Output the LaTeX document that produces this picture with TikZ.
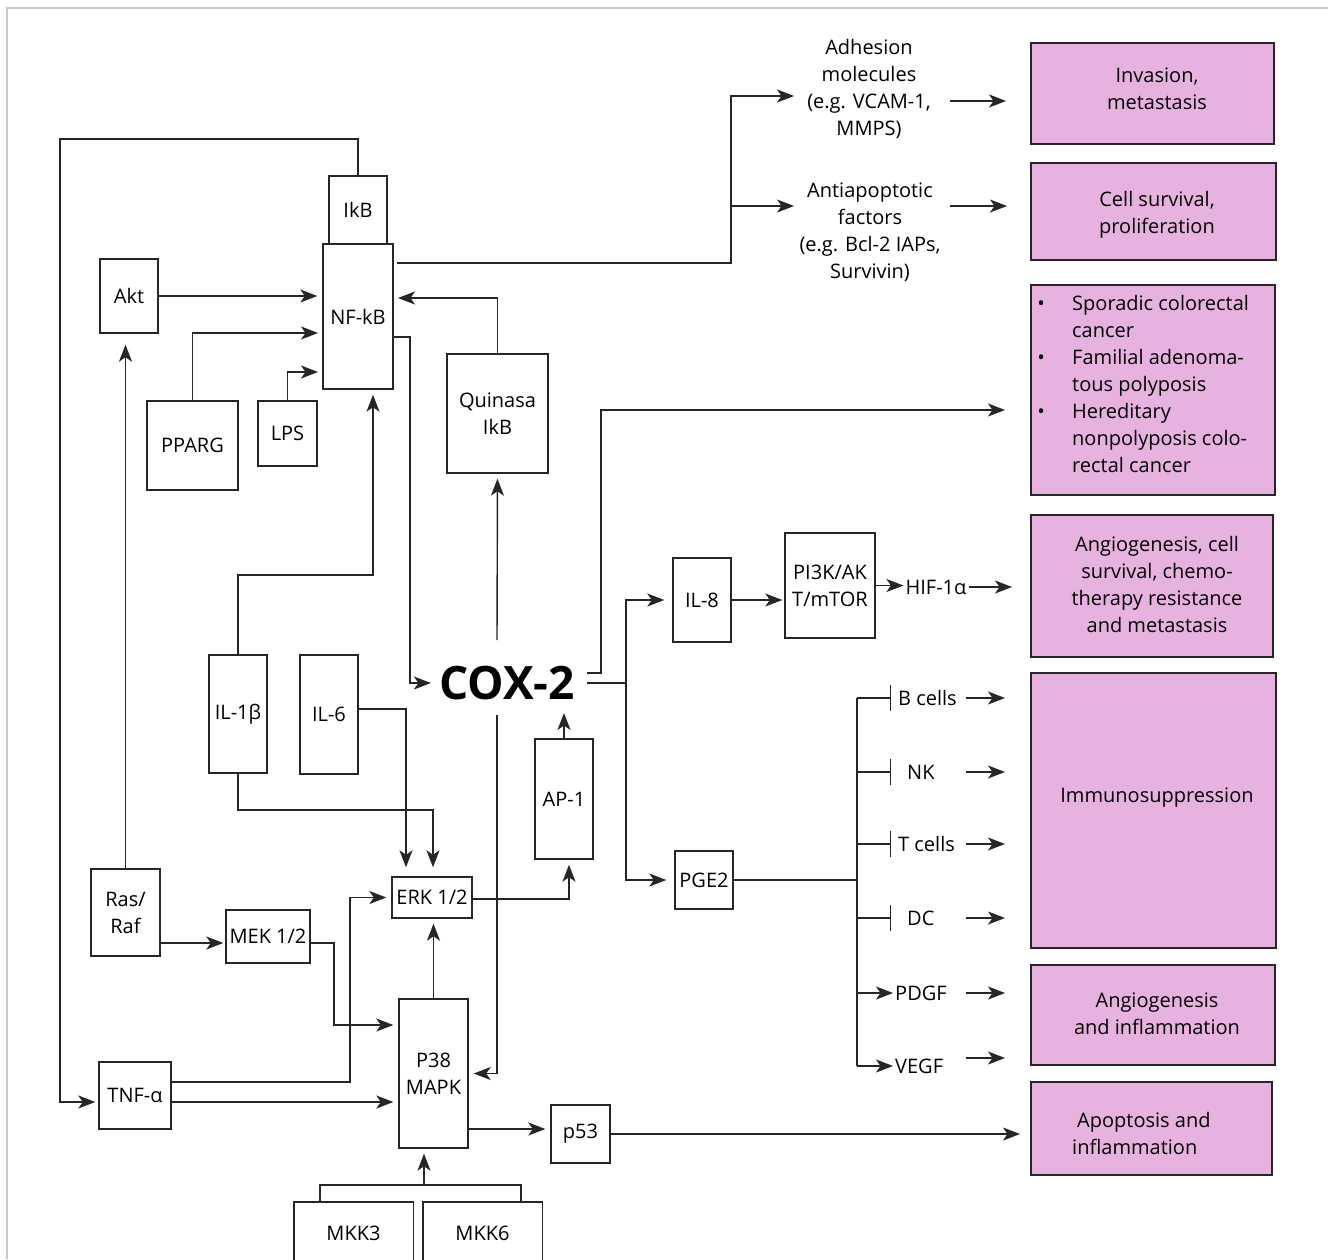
\documentclass[tikz,border=0pt]{standalone}
\usepackage{fontspec}
\setmainfont{Open Sans}
\usetikzlibrary{arrows.meta,calc}
\definecolor{pinkf}{HTML}{E8B2E0}
\definecolor{edgec}{HTML}{262626}
\begin{document}
\begin{tikzpicture}[x=1pt,y=-1pt,
  every node/.style={font=\fontsize{20}{27}\selectfont, inner sep=0pt, text=black},
  box/.style={draw=edgec, line width=1.4pt, rectangle, align=center},
  pbox/.style={draw=edgec, fill=pinkf, line width=1.4pt, rectangle},
  ln/.style={line width=1.4pt, draw=edgec},
  arr/.style={ln, -{Stealth[length=17pt,width=13pt,inset=4.5pt]}, shorten >=5pt},
  arrc/.style={ln, -{Stealth[length=17pt,width=13pt,inset=4.5pt]}},
  inh/.style={ln, -{Bar[width=26pt]}},
  txt/.style={align=center}
]
\useasboundingbox (0,0) rectangle (1328,1259);
\fill[white] (0,0) rectangle (1328,1259);
\draw[line width=2pt, black!22] (6.5,1259) -- (6.5,7.5) -- (1328,7.5);

% ---------- left / centre boxes ----------
\node[box, minimum width=58pt, minimum height=74pt] (akt) at (129,296) {Akt};
\node[box, minimum width=58pt, minimum height=68pt] (ikb) at (358,210) {IkB};
\node[box, minimum width=70pt, minimum height=145pt] (nfkb) at (358,316.5) {NF-kB};
\node[box, minimum width=91pt, minimum height=89pt] (pparg) at (192.5,445.5) {PPARG};
\node[box, minimum width=59pt, minimum height=65pt] (lps) at (287.5,433.5) {LPS};
\node[box, minimum width=101pt, minimum height=119pt] (quin) at (497.5,413.5) {Quinasa\\IkB};
\node[box, minimum width=58pt, minimum height=118pt] (il1b) at (238,714) {IL-1β};
\node[box, minimum width=58pt, minimum height=119pt] (il6) at (329,714.5) {IL-6};
\node[box, minimum width=58pt, minimum height=120pt] (ap1) at (564,799) {AP-1};
\node[box, minimum width=80pt, minimum height=41pt] (erk) at (432,897.5) {ERK 1/2};
\node[box, minimum width=69pt, minimum height=87pt] (rasraf) at (125.5,912.5) {Ras/\\Raf};
\node[box, minimum width=84pt, minimum height=53pt] (mek) at (268,936.5) {MEK 1/2};
\node[box, minimum width=72pt, minimum height=67pt] (tnf) at (135,1095.5) {TNF-α};
\node[box, minimum width=69pt, minimum height=149pt] (p38) at (433.5,1073.5) {P38\\MAPK};
\node[box, minimum width=59pt, minimum height=58pt] (p53) at (580.5,1134) {p53};
\node[minimum width=119pt, minimum height=62pt] (mkk3) at (353.5,1233) {MKK3};
\node[minimum width=119pt, minimum height=62pt] (mkk6) at (482.5,1233) {MKK6};
\draw[ln] (mkk3.south west) -- (mkk3.north west) -- (mkk3.north east) -- (mkk3.south east);
\draw[ln] (mkk6.south west) -- (mkk6.north west) -- (mkk6.north east) -- (mkk6.south east);
\node[box, minimum width=58pt, minimum height=84pt] (il8) at (702,600) {IL-8};
\node[box, minimum width=90pt, minimum height=105pt] (pi3k) at (830,585.5) {PI3K/AK\\T/mTOR};
\node[box, minimum width=58pt, minimum height=58pt] (pge2) at (704,880) {PGE2};

\node[font=\fontsize{46}{50}\selectfont\bfseries] (cox) at (507,683) {COX-2};
\node (hif) at (936,587) {HIF-1α};
\node[txt] (adh) at (869,88.5) {Adhesion\\molecules\\(e.g. VCAM-1,\\MMPS)};
\node[txt] (anti) at (870,232.5) {Antiapoptotic\\factors\\(e.g. Bcl-2 IAPs,\\Survivin)};

% ---------- right pink boxes ----------
\node[pbox, minimum width=243pt, minimum height=101pt] (inv) at (1152.5,93.5) {};
\node[txt] (invt) at (1157,88.5) {Invasion,\\metastasis};
\node[pbox, minimum width=245pt, minimum height=97pt] (cell) at (1153.5,211.5) {};
\node[txt] (cellt) at (1157,214.5) {Cell survival,\\proliferation};
\node[pbox, minimum width=244pt, minimum height=210pt] (bul) at (1153,390) {};
\node[anchor=north west] (bult) at (1031,291) {\begin{tabular}{@{}l@{}l@{}}
\makebox[20pt]{•}\hspace{21pt} & Sporadic colorectal\\
 & cancer\\
\makebox[20pt]{•}\hspace{21pt} & Familial adenoma-\\
 & tous polyposis\\
\makebox[20pt]{•}\hspace{21pt} & Hereditary\\
 & nonpolyposis colo-\\
 & rectal cancer
\end{tabular}};
\node[pbox, minimum width=242pt, minimum height=142pt] (ang) at (1152,586) {};
\node[txt] (angt) at (1157,584.5) {Angiogenesis, cell\\survival, chemo-\\therapy resistance\\and metastasis};
\node[pbox, minimum width=245pt, minimum height=275pt] (imm) at (1153.5,810.5) {};
\node (immt) at (1157,798) {Immunosuppression};
\node[pbox, minimum width=244pt, minimum height=100pt] (angi) at (1153,1015) {};
\node[txt] (angit) at (1157,1014) {Angiogenesis\\and inflammation};
\node[pbox, minimum width=241pt, minimum height=93pt] (apop) at (1151.5,1128.5) {};
\node[align=left, anchor=west] (apopt) at (1072,1133.5) {\hspace*{5pt}Apoptosis and\\inflammation};

% ---------- branch labels ----------
\node[anchor=west] (bc) at (898,698) {B cells};
\node[anchor=west] (nk) at (907,772) {NK};
\node[anchor=west] (tc) at (898,844) {T cells};
\node[anchor=west] (dc) at (907,918) {DC};
\node[anchor=west] (pd) at (895,993) {PDGF};
\node[anchor=west] (vg) at (895,1066) {VEGF};

% ---------- coordinates ----------
\coordinate (lt) at (60,139);
\coordinate (lb) at (60,1102);
\coordinate (nfin2) at (323,333);
\coordinate (nfin3) at (323,372);
\coordinate (j1) at (373,575);
\coordinate (nfout) at (393,337);
\coordinate (nfout2) at (410,337);
\coordinate (coxin) at (410,683);
\coordinate (nftop) at (397,263);
\coordinate (split) at (731,263);
\coordinate (adhin) at (794,96);
\coordinate (antiin) at (794,206);
\coordinate (adhout) at (950,101);
\coordinate (invin) at (1006,101);
\coordinate (antiout) at (950,206);
\coordinate (cellin) at (1007,206);
\coordinate (qin) at (393,298);
\coordinate (cq) at (497,640);
\coordinate (cp) at (497,715);
\coordinate (apt) at (564,713);
\coordinate (i6) at (406,709);
\coordinate (i1) at (238,810);
\coordinate (i1b) at (433,810);
\coordinate (ea) at (569,899);
\coordinate (rm) at (160,943);
\coordinate (mp) at (334,943);
\coordinate (mp2) at (334,1025);
\coordinate (te) at (350,1082);
\coordinate (tp) at (171,1102);
\coordinate (pp) at (468,1129);
\coordinate (apin) at (1020,0);
\coordinate (m3) at (320,1185);
\coordinate (m6) at (521,1185);
\coordinate (mk) at (424,1185);
\coordinate (co1) at (587,673);
\coordinate (v1) at (601,410);
\coordinate (bulin) at (1005,410);
\coordinate (co2) at (587,683);
\coordinate (v2) at (626,683);
\coordinate (angin) at (1012,0);
\coordinate (vt) at (857,698);
\coordinate (vb) at (857,1066);
\coordinate (barx) at (891,0);
\coordinate (ra) at (966,0);
\coordinate (rb) at (1005,0);

% ---------- connectors ----------
\draw[arrc, shorten >=3pt] (ikb.north) |- (lt) -- (lb) -- (lb -| tnf.west);
\draw[arr] (akt.east) -- (akt.east -| nfkb.west);
\draw[arr] (pparg.north) |- (nfin2);
\draw[arr] (lps.north) |- (nfin3);
\draw[arr] (il1b.north) |- (j1) -- (j1 |- nfkb.south);
\draw[arr, shorten >=8pt] (nfout) -- (nfout2) -- (coxin) -- (cox.west);
\draw[arrc] (nftop) -- (split) |- (adhin);
\draw[arrc] (split |- antiin) -- (antiin);
\draw[arrc] (adhout) -- (invin);
\draw[arrc] (antiout) -- (cellin);
\draw[arr] (quin.north) |- (qin);
\draw[arr] (cq) -- (quin.south);
\draw[arr] (cp) |- (p38.east);
\draw[arrc] (ap1.north) -- (apt);
\draw[arr] (erk.east |- ea) -- (ea) -- (ea |- ap1.south);
\draw[arr, shorten >=9pt] (il6.east |- i6) -- (i6) -- (i6 |- erk.north);
\draw[arr, shorten >=9pt] (il1b.south) -- (i1) -- (i1b) -- (i1b |- erk.north);
\draw[arr] (p38.north) -- (p38.north |- erk.south);
\draw[arr, shorten >=11pt] (rasraf.north) -- (rasraf.north |- akt.south);
\draw[arr, shorten >=2pt] (rm) -- (rm -| mek.west);
\draw[arr] (mek.east |- mp) -- (mp) -- (mp2) -- (mp2 -| p38.west);
\draw[arr] (tnf.east |- te) -- (te) |- (erk.west);
\draw[arr] (tnf.east |- tp) -- (tp -| p38.west);
\draw[arr] (p38.east |- pp) -- (pp -| p53.west);
\draw[arrc] (p53.east) -- (p53.east -| apin);
\draw[ln] (m3 |- mkk3.north) -- (m3) -- (m6) -- (m6 |- mkk6.north);
\draw[arr] (mk) -- (mk |- p38.south);
\draw[arrc] (co1) -| (v1) -- (bulin);
\draw[ln] (co2) -- (v2);
\draw[arr, shorten >=8pt] (v2) |- (il8.west);
\draw[arr, shorten >=8pt] (v2) |- (pge2.west);
\draw[arr, shorten >=2pt] (il8.east) -- (il8.east -| pi3k.west);
\draw[arr, shorten >=2pt] (pi3k.east) -- (pi3k.east -| hif.west);
\draw[arrc, shorten <=2pt] (hif.east) -- (hif.east -| angin);
\draw[ln] (pge2.east) -- (pge2.east -| vt);
\draw[ln] (vt) -- (vb);
\draw[inh] (bc.west -| vt) -- (bc.west -| barx);
\draw[inh] (nk.west -| vt) -- (nk.west -| barx);
\draw[inh] (tc.west -| vt) -- (tc.west -| barx);
\draw[inh] (dc.west -| vt) -- (dc.west -| barx);
\draw[arrc, shorten >=2pt] (pd.west -| vt) -- (pd.west);
\draw[arrc, shorten >=2pt] (vg.west -| vt) -- (vg.west);
\draw[arrc] (bc.west -| ra) -- (bc.west -| rb);
\draw[arrc] (nk.west -| ra) -- (nk.west -| rb);
\draw[arrc] (tc.west -| ra) -- (tc.west -| rb);
\draw[arrc] (dc.west -| ra) -- (dc.west -| rb);
\draw[arrc] (pd.west -| ra) -- (pd.west -| rb);
\draw[arrc] ($(vg.west -| ra)+(0,-8)$) -- ($(vg.west -| rb)+(0,-8)$);
\end{tikzpicture}
\end{document}
